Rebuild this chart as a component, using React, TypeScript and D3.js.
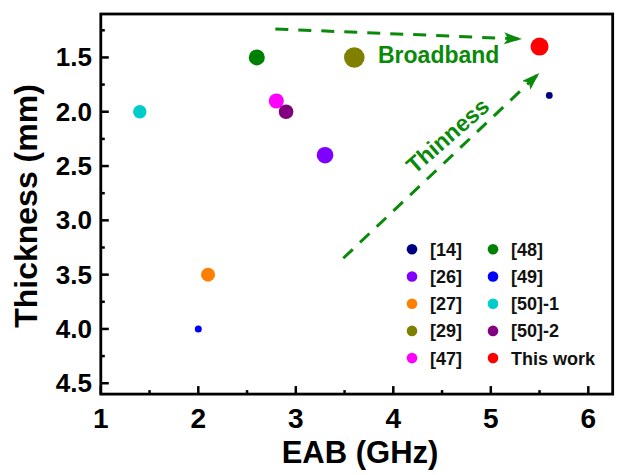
import React from "react";
import * as d3 from "d3";

// ---- data ----
const labels = ["[14]", "[26]", "[27]", "[29]", "[47]", "[48]", "[49]", "[50]-1", "[50]-2", "This work"];
const eab = [5.6, 3.3, 2.1, 3.6, 2.8, 2.6, 2.0, 1.4, 2.9, 5.5];
const thickness = [1.85, 2.4, 3.5, 1.5, 1.9, 1.5, 4.0, 2.0, 2.0, 1.4];
const xTicks = [1, 2, 3, 4, 5, 6];
const yTicks = [1.5, 2.0, 2.5, 3.0, 3.5, 4.0, 4.5];
// annotation arrows (data units): [x1, y1, x2, y2]
const broadbandArrow = [2.79, 1.238, 5.31, 1.33];
const thinnessArrow = [3.487, 3.349, 5.49, 1.65];

// ---- style ----
const colors = ["#000080", "#8000FF", "#FF8000", "#808000", "#FF00FF", "#008000", "#0000FF", "#00CCCC", "#800080", "#FF0000"];
const markerRadius = [3.4, 8.3, 7, 10.3, 7.5, 8, 3.5, 6.7, 7.3, 9];

const W = 617, H = 475;
const M = { left: 100.8, top: 14 };
const FONT = "'Liberation Sans', Arial, Helvetica, sans-serif";
const GREEN = "#0a8a0a";

export default function App() {
  const x = d3.scaleLinear().domain([1, 6.25]).range([M.left, M.left + 5.25 * 97.5]);
  const y = d3.scaleLinear().domain([1.1, 4.6]).range([M.top, M.top + 3.5 * 108.6]);
  const [x0, x1] = x.range();
  const [y0, y1] = y.range();

  const xMinor = d3.range(1.5, 6.25, 1);
  const yMinor = d3.range(1.25, 4.6, 0.5);

  const legendRows = 5;
  const legendX = [412, 493];
  const legendY0 = 249.3, legendDy = 27.2;

  const thinAngle = -41;
  const thinCx = 447.5, thinCy = 135.7;

  return (
    <svg
      width={W}
      height={H}
      style={{ position: "fixed", left: 0, top: 0, background: "#fff" }}
      fontFamily={FONT}
      fontWeight="bold"
    >
      <defs>
        <marker id="ah" viewBox="0 0 18 12" refX="17" refY="6" markerWidth="18" markerHeight="12"
          markerUnits="userSpaceOnUse" orient="auto">
          <path d="M0,0 L18,6 L0,12 L4,6 Z" fill={GREEN} />
        </marker>
      </defs>
      <rect x={0} y={0} width={W} height={H} fill="#fff" />

      {/* frame */}
      <rect x={x0} y={y0} width={x1 - x0} height={y1 - y0} fill="none" stroke="#000" strokeWidth={2.8} />

      {/* x ticks */}
      {xTicks.map((t) => (
        <g key={"xt" + t}>
          <line x1={x(t)} x2={x(t)} y1={y1} y2={y1 - 8} stroke="#000" strokeWidth={2.5} />
          <text x={x(t)} y={428} textAnchor="middle" fontSize={28}>{t}</text>
        </g>
      ))}
      {xMinor.map((t) => (
        <line key={"xm" + t} x1={x(t)} x2={x(t)} y1={y1} y2={y1 - 4} stroke="#000" strokeWidth={2.5} />
      ))}

      {/* y ticks */}
      {yTicks.map((t) => (
        <g key={"yt" + t}>
          <line x1={x0} x2={x0 + 8} y1={y(t)} y2={y(t)} stroke="#000" strokeWidth={2.5} />
          <text x={92} y={y(t) + 9} textAnchor="end" fontSize={26}>{t.toFixed(1)}</text>
        </g>
      ))}
      {yMinor.map((t) => (
        <line key={"ym" + t} x1={x0} x2={x0 + 4} y1={y(t)} y2={y(t)} stroke="#000" strokeWidth={2.5} />
      ))}

      {/* axis titles */}
      <text x={360} y={463} textAnchor="middle" fontSize={31}>EAB (GHz)</text>
      <text transform={`translate(37,206) rotate(-90)`} textAnchor="middle" fontSize={32}>Thickness (mm)</text>

      {/* arrows */}
      <line x1={x(broadbandArrow[0])} y1={y(broadbandArrow[1])} x2={x(broadbandArrow[2])} y2={y(broadbandArrow[3])}
        stroke={GREEN} strokeWidth={3} strokeDasharray="13,10" markerEnd="url(#ah)" />
      <line x1={x(thinnessArrow[0])} y1={y(thinnessArrow[1])} x2={x(thinnessArrow[2])} y2={y(thinnessArrow[3])}
        stroke={GREEN} strokeWidth={3} strokeDasharray="13,10" markerEnd="url(#ah)" />
      <text x={378} y={62.7} fontSize={23} fill={GREEN}>Broadband</text>
      <text transform={`translate(${thinCx},${thinCy}) rotate(${thinAngle})`} y={8} textAnchor="middle" fontSize={23} fill={GREEN}>Thinness</text>

      {/* points */}
      {labels.map((l, i) => (
        <circle key={"p" + l} cx={x(eab[i])} cy={y(thickness[i])} r={markerRadius[i]} fill={colors[i]} />
      ))}

      {/* legend */}
      {labels.map((l, i) => {
        const col = Math.floor(i / legendRows);
        const row = i % legendRows;
        const cx = legendX[col];
        const cy = legendY0 + row * legendDy;
        return (
          <g key={"lg" + l}>
            <circle cx={cx} cy={cy} r={5.3} fill={colors[i]} />
            <text x={cx + 18} y={cy + 6.5} fontSize={18} fill="#111">{l}</text>
          </g>
        );
      })}
    </svg>
  );
}
